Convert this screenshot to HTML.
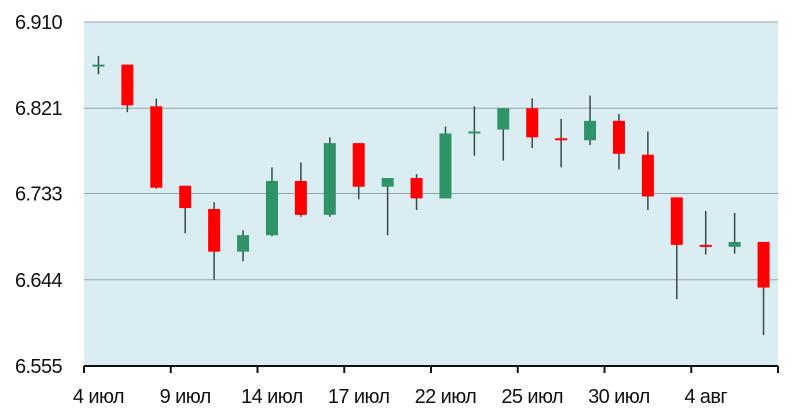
<!DOCTYPE html>
<html><head><meta charset="utf-8"><style>
body{margin:0;background:#fff;}
svg{display:block;font-family:"Liberation Sans",sans-serif;}
</style></head><body>
<svg id="chart" width="804" height="418"></svg>
<script>
const opens  =[6.866,6.866,6.823,6.741,6.717,6.673,6.690,6.746,6.711,6.785,6.740,6.749,6.728,6.795,6.799,6.821,6.790,6.788,6.808,6.773,6.729,6.680,6.678,6.683];
const closes =[6.866,6.824,6.739,6.718,6.673,6.690,6.746,6.711,6.785,6.740,6.749,6.728,6.795,6.797,6.821,6.791,6.788,6.808,6.774,6.730,6.680,6.678,6.683,6.636];
const highs  =[6.875,6.866,6.831,6.741,6.724,6.695,6.760,6.765,6.791,6.785,6.749,6.753,6.802,6.823,6.821,6.831,6.810,6.834,6.815,6.797,6.729,6.715,6.713,6.683];
const lows   =[6.856,6.817,6.738,6.692,6.644,6.663,6.689,6.709,6.709,6.727,6.690,6.716,6.728,6.772,6.767,6.780,6.760,6.783,6.758,6.716,6.624,6.670,6.671,6.587];
const yTicks =["6.555","6.644","6.733","6.821","6.910"];
const xLabels=[[0,"4 июл"],[3,"9 июл"],[6,"14 июл"],[9,"17 июл"],[12,"22 июл"],[15,"25 июл"],[18,"30 июл"],[21,"4 авг"]];
const svg=document.getElementById('chart');
const NS='http://www.w3.org/2000/svg';
const L=84,R=778,T=22,B=366,ymin=6.555,ymax=6.910;
const n=opens.length,cw=(R-L)/n;
const y=v=>B-(v-ymin)/(ymax-ymin)*(B-T);
const x=i=>L+(i+0.5)*cw;
function mk(t,a){const e=document.createElementNS(NS,t);for(const k in a)e.setAttribute(k,a[k]);svg.appendChild(e);return e;}
let bg=mk('rect',{x:L,y:T,width:R-L,height:B-T,fill:'#daedf3'});


yTicks.forEach(t=>{const v=parseFloat(t);const yy=y(v);
 if(v>ymin){let g=mk('line',{x1:L,x2:R,y1:yy,y2:yy,stroke:'#9aa3a8','stroke-width':1});
 
 }
 let tx=mk('text',{x:62,y:yy+7,'text-anchor':'end','font-size':20,fill:'#111','letter-spacing':'-0.6'});tx.textContent=t;
 
 
});
let ax=mk('line',{x1:L,x2:R,y1:B,y2:B,stroke:'#111','stroke-width':2});


for(let i=0;i<=n;i+=3){let t=mk('line',{x1:L+i*cw,x2:L+i*cw,y1:B,y2:B+7,stroke:'#111','stroke-width':2});
 
 }
xLabels.forEach(([i,s])=>{let t=mk('text',{x:x(i),y:B+37,'text-anchor':'middle','font-size':20,fill:'#111','letter-spacing':'-0.6'});t.textContent=s;
 
 });
for(let i=0;i<n;i++){
 const up=closes[i]>=opens[i];const col=up?'#2e9468':'#ff0000';
 let w=mk('line',{x1:x(i),x2:x(i),y1:y(highs[i]),y2:y(lows[i]),stroke:'#3a4a4a','stroke-width':1.5});
 
 
 const top=y(Math.max(opens[i],closes[i])),bot=y(Math.min(opens[i],closes[i]));
 let b=mk('rect',{x:x(i)-6,y:top,width:12,height:Math.max(bot-top,2),fill:col});
 
 
}
</script>
</body></html>
